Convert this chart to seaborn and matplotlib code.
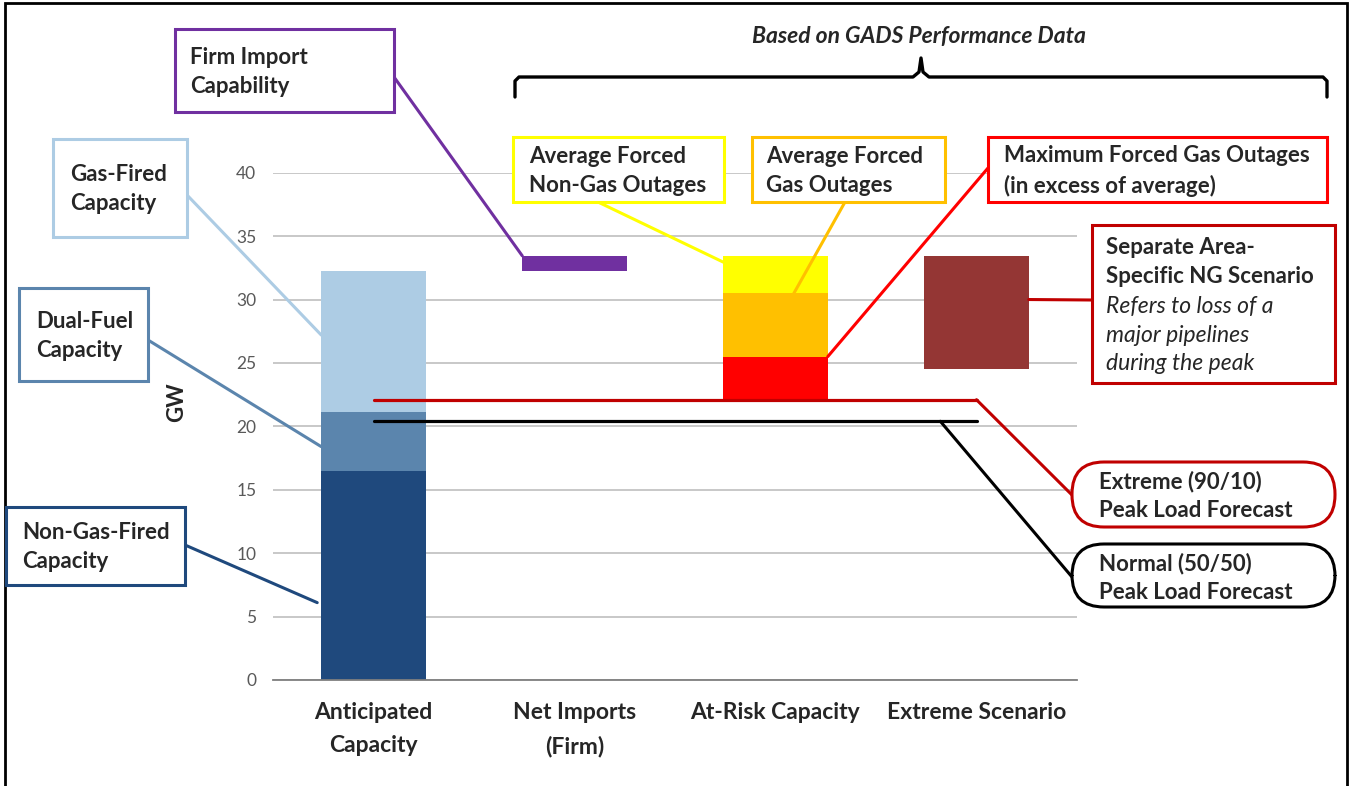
import numpy as np
import pandas as pd
import seaborn as sns
import matplotlib.pyplot as plt
from matplotlib.patches import Rectangle, FancyBboxPatch, ConnectionPatch
from matplotlib.lines import Line2D

# ---- data (GW) ----
categories = ["Anticipated\nCapacity", "Net Imports\n(Firm)", "At-Risk Capacity", "Extreme Scenario"]

cap_segments = ["Non-Gas-Fired", "Dual-Fuel", "Gas-Fired"]
cap_values = [16.5, 4.6, 11.15]
cap_colors = ["#1F497D", "#5B85AD", "#ADCCE4"]

net_imports = 1.2
import_color = "#7030A0"

at_risk_segments = ["Average Forced Non-Gas Outages", "Average Forced Gas Outages",
                    "Maximum Forced Gas Outages"]
at_risk_values = [2.95, 5.0, 3.4]
at_risk_colors = ["#FFFF00", "#FFC000", "#FF0000"]

extreme_scenario = 8.95
extreme_color = "#943634"

peak_extreme = 22.1   # 90/10
peak_normal = 20.4    # 50/50

yticks = [0, 5, 10, 15, 20, 25, 30, 35, 40]

# ---- style ----
sns.set_theme(style="white")
plt.rcParams["font.family"] = ["Lato", "DejaVu Sans"]

W, H = 1352, 786
fig = plt.figure(figsize=(W / 100, H / 100), dpi=100)
ax = fig.add_axes([273 / W, 1 - 680 / H, (1077 - 273) / W, (680 - 172.7) / H])

bar_w = 0.52

# anticipated capacity: stacked, drawn tallest first
cap_df = pd.DataFrame({"category": categories[0], "segment": cap_segments,
                       "top": np.cumsum(cap_values)})
for seg, color in reversed(list(zip(cap_segments, cap_colors))):
    sns.barplot(data=cap_df[cap_df["segment"] == seg], x="category", y="top",
                order=categories, color=color, width=bar_w, saturation=1,
                linewidth=0, errorbar=None, ax=ax, zorder=2)

# waterfall pieces
cap_total = float(np.sum(cap_values))
top = cap_total + net_imports
ax.bar(1, net_imports, bottom=cap_total, width=bar_w, color=import_color,
       linewidth=0, zorder=2)
level = top
for v, c in zip(at_risk_values, at_risk_colors):
    level -= v
    ax.bar(2, v, bottom=level, width=bar_w, color=c, linewidth=0, zorder=2)
ax.bar(3, extreme_scenario, bottom=top - extreme_scenario, width=bar_w,
       color=extreme_color, linewidth=0, zorder=2)

# peak load lines
ax.plot([0, 3], [peak_extreme] * 2, color="#C00000", lw=2.3, zorder=4)
ax.plot([0, 3], [peak_normal] * 2, color="black", lw=2.3, zorder=4)

ax.set_xlim(-0.5, 3.5)
ax.set_ylim(0, 40)
ax.set_yticks(yticks)
ax.yaxis.grid(True, color="#BFBFBF", lw=1.2)
ax.set_axisbelow(True)
for s in ["left", "right", "top"]:
    ax.spines[s].set_visible(False)
ax.spines["bottom"].set_color("#7F7F7F")
ax.spines["bottom"].set_linewidth(1.3)
ax.tick_params(axis="y", length=0, pad=12, labelsize=12.5, labelcolor="#595959")
ax.tick_params(axis="x", length=0, pad=16)
ax.set_xticks(range(len(categories)))
ax.set_xticklabels(categories, fontsize=16.5, fontweight="bold", linespacing=1.7)
ax.set_xlabel("")
ax.set_ylabel("GW", fontsize=16, fontweight="bold")
ax.yaxis.set_label_coords(-0.107, 0.547)

# ---- annotations (reference pixel coords -> inches) ----
tr = fig.dpi_scale_trans


def pt(x, y):
    return x / 100, (H - y) / 100


def box(x0, y0, x1, y1, color, rounded=False):
    if rounded:
        p = FancyBboxPatch(pt(x0, y1), (x1 - x0) / 100, (y1 - y0) / 100,
                           boxstyle="round,pad=0,rounding_size=0.32",
                           transform=tr, fc="white", ec=color, lw=2.2, zorder=5)
    else:
        p = Rectangle(pt(x0, y1), (x1 - x0) / 100, (y1 - y0) / 100,
                      transform=tr, fc="white", ec=color, lw=2.2, zorder=5)
    fig.add_artist(p)


def label(x, y, s, **kw):
    kw.setdefault("fontsize", 16)
    kw.setdefault("fontweight", "bold")
    fig.text(*pt(x, y), s, transform=tr, ha="left", va="center",
             linespacing=1.45, zorder=6, **kw)


def link(p_px, xy, color):
    fig.add_artist(ConnectionPatch(xyA=pt(*p_px), coordsA=tr, xyB=xy,
                                   coordsB=ax.transData, color=color, lw=2.2,
                                   zorder=4))


h = bar_w / 2

# left side capacity boxes
box(175, 29, 394, 112, import_color)
label(190, 72, "Firm Import\nCapability")
link((394, 77), (1 - h, top), import_color)

box(53, 139, 187, 237, cap_colors[2])
label(70, 189, "Gas-Fired\nCapacity")
link((187, 195), (-h, 27.2), cap_colors[2])

box(19, 288, 148, 381, cap_colors[1])
label(36, 336, "Dual-Fuel\nCapacity")
link((148, 340), (-h, 18.4), cap_colors[1])

box(6, 507, 185, 585, cap_colors[0])
label(22, 547, "Non-Gas-Fired\nCapacity")
link((185, 545), (-h - 0.02, 6.1), cap_colors[0])

# at-risk boxes
box(513, 137, 724, 202, at_risk_colors[0])
label(529, 171, "Average Forced\nNon-Gas Outages")
link((598, 202), (2 - h, 32.95), at_risk_colors[0])

box(752, 137, 945, 202, at_risk_colors[1])
label(766, 171, "Average Forced\nGas Outages")
link((845, 202), (2.09, 30.45), at_risk_colors[1])

box(988, 137, 1327, 202, at_risk_colors[2])
label(1004, 171, "Maximum Forced Gas Outages\n(in excess of average)")
link((988, 168), (2 + h, top - sum(at_risk_values[:2])), at_risk_colors[2])

# extreme scenario box
box(1092, 225, 1335, 383, "#C00000")
label(1106, 262, "Separate Area-\nSpecific NG Scenario")
label(1106, 335, "Refers to loss of a\nmajor pipelines\nduring the peak",
      fontweight="normal", fontstyle="italic", fontsize=16.5)
link((1092, 300), (3 + h, 30.0), "#C00000")

# peak load ellipses
box(1072, 462, 1335, 527, "#C00000", rounded=True)
label(1099, 496, "Extreme (90/10)\nPeak Load Forecast")
link((1072, 495), (3, peak_extreme), "#C00000")

box(1072, 544, 1335, 607, "black", rounded=True)
label(1099, 578, "Normal (50/50)\nPeak Load Forecast")
link((1072, 577), (2.82, peak_normal), "black")

# bracket over GADS-based columns
bx = [515, 515, 519, 913, 919, 921, 923, 929, 1323, 1327, 1327]
by = [97, 81, 77, 77, 72, 58, 72, 77, 77, 81, 97]
fig.add_artist(Line2D([x / 100 for x in bx], [(H - y) / 100 for y in by],
                      transform=tr, color="black", lw=2.4))
fig.text(*pt(919, 37), "Based on GADS Performance Data", transform=tr,
         ha="center", va="center", fontsize=16.5, fontweight="bold", fontstyle="italic")

# outer frame
fig.add_artist(Rectangle(pt(5, 800), 1342 / 100, 797 / 100, transform=tr,
                         fill=False, ec="black", lw=2))

fig.savefig("out.png", dpi=100)
